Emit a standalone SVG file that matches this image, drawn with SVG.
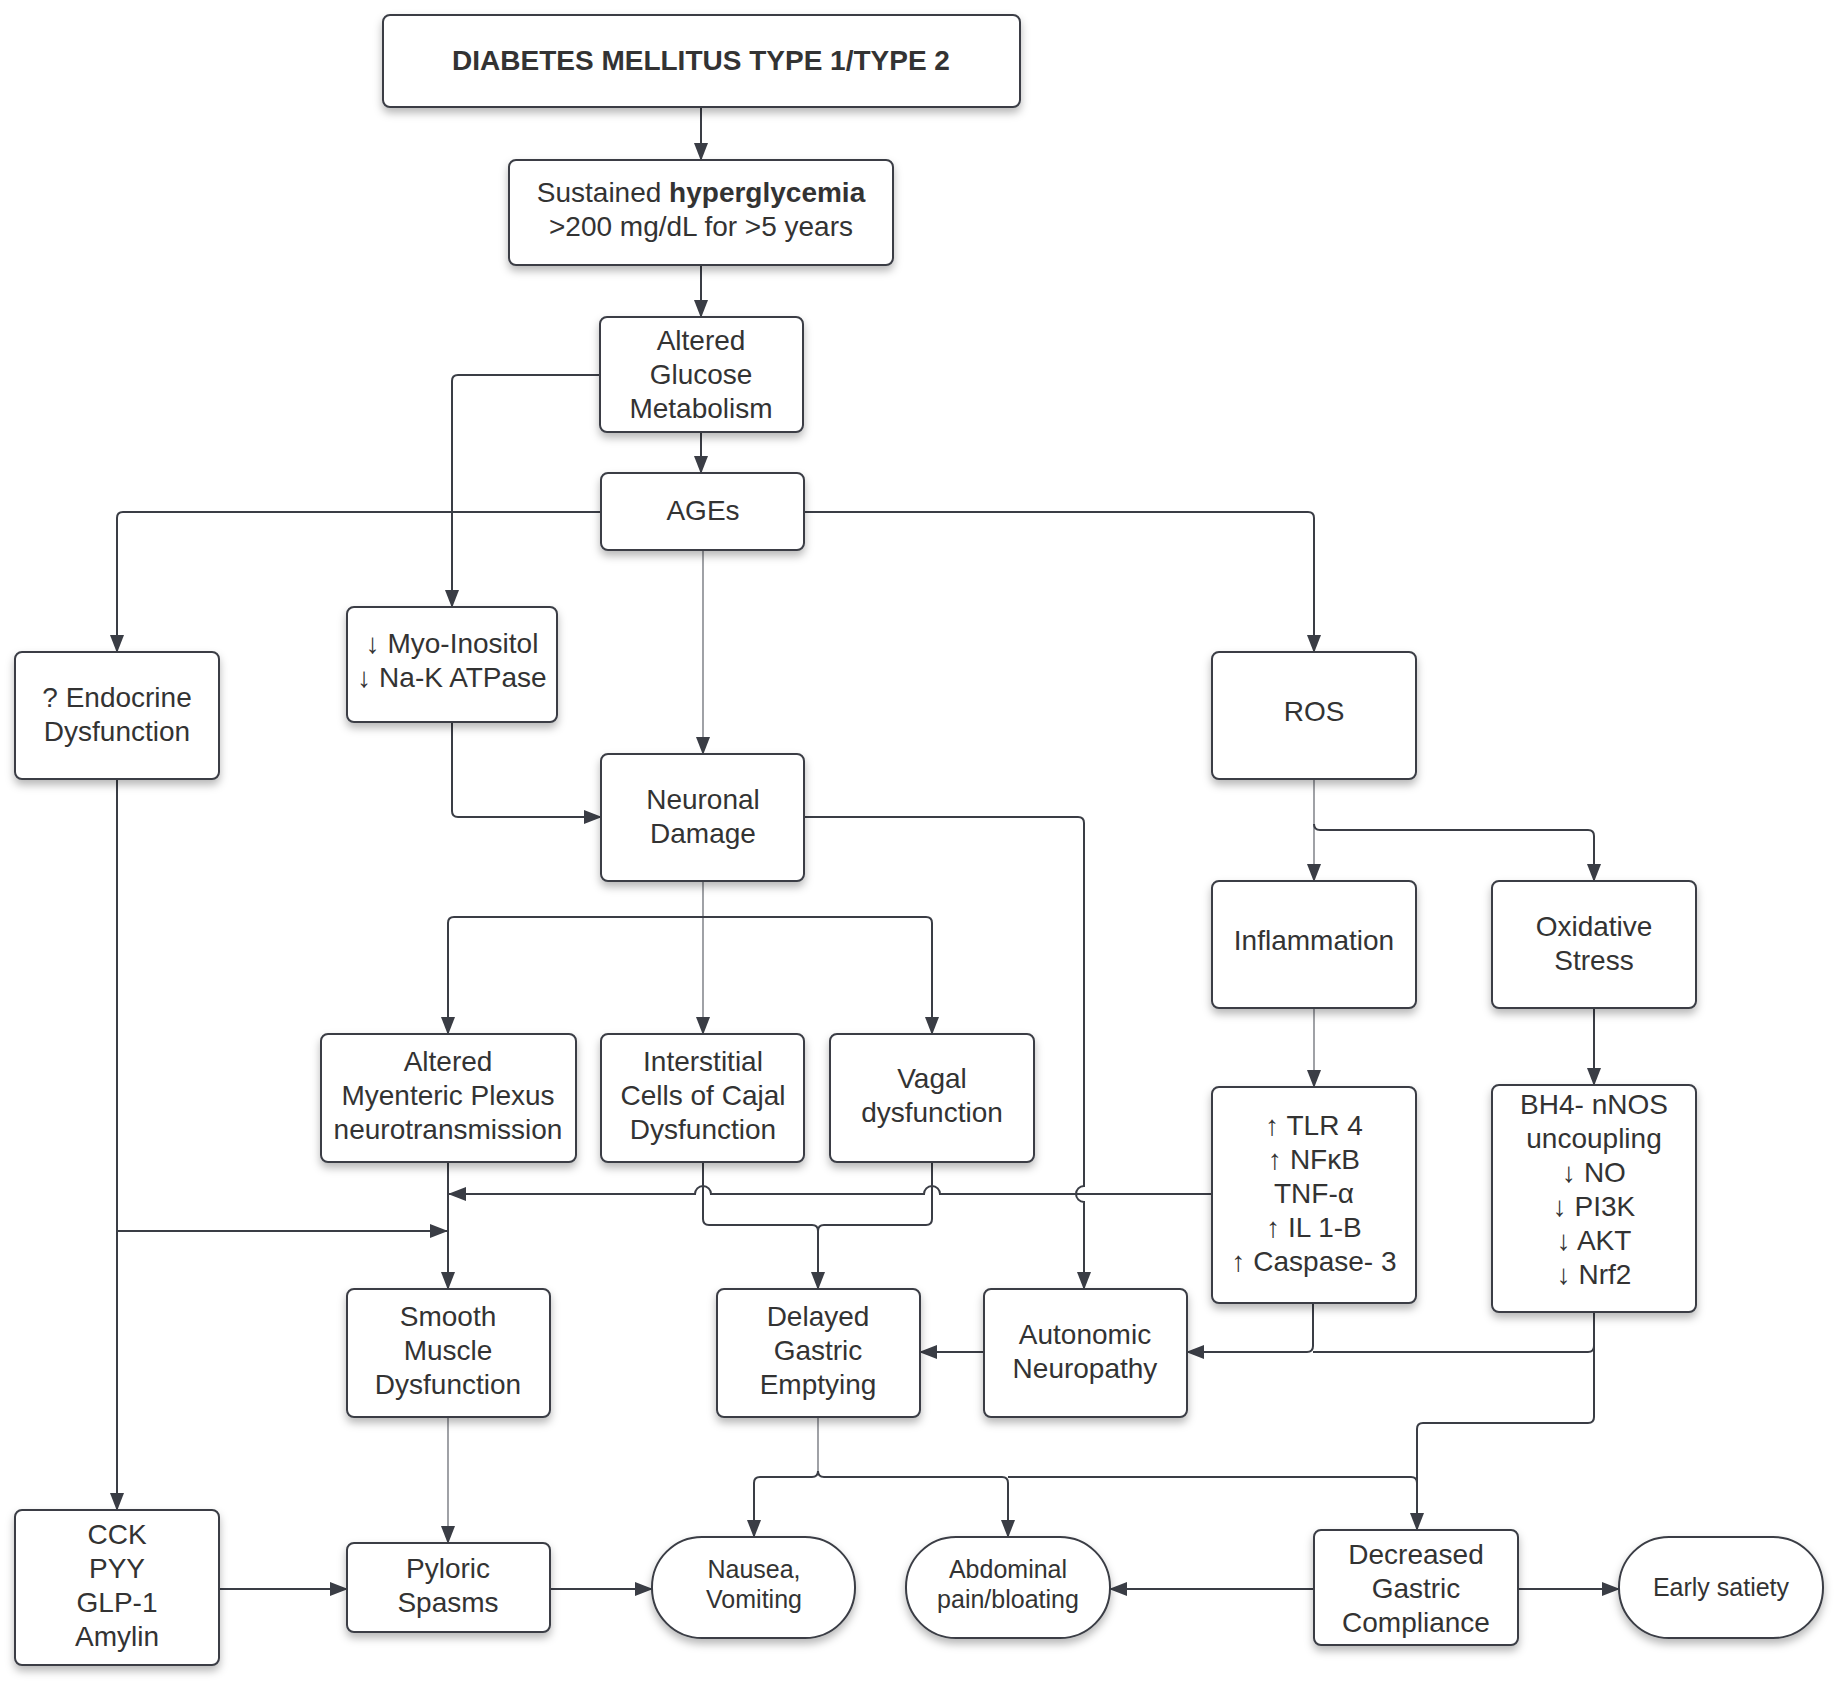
<svg xmlns="http://www.w3.org/2000/svg" width="1836" height="1684" viewBox="0 0 1836 1684">
<defs>
<filter id="sh" x="-10%" y="-10%" width="120%" height="130%">
<feDropShadow dx="0" dy="5" stdDeviation="4" flood-color="#000" flood-opacity="0.28"/>
</filter>
<marker id="ar" markerUnits="userSpaceOnUse" markerWidth="18" markerHeight="14" refX="17" refY="7" orient="auto">
<path d="M0,0 L18,7 L0,14 Z" fill="#3a3d45"/>
</marker>
</defs>
<style>
.b{fill:#fff;stroke:#3a3d45;stroke-width:2;filter:url(#sh)}
.t{font-family:"Liberation Sans",Arial,sans-serif;font-size:28px;fill:#333;text-anchor:middle}
.s{font-size:25px}
.c{fill:none;stroke:#3a3d45;stroke-width:2}
.l{fill:none;stroke:#777a80;stroke-width:1.4}
</style>
<rect width="1836" height="1684" fill="#fff"/>
<g id="connectors">
<path class="c" d="M701,107 V160" marker-end="url(#ar)"/>
<path class="c" d="M701,265 V317" marker-end="url(#ar)"/>
<path class="c" d="M701,432 V473" marker-end="url(#ar)"/>
<path class="c" d="M600,375 H458 Q452,375 452,381 V607" marker-end="url(#ar)"/>
<path class="c" d="M601,512 H123 Q117,512 117,518 V652" marker-end="url(#ar)"/>
<path class="c" d="M804,512 H1308 Q1314,512 1314,518 V652" marker-end="url(#ar)"/>
<path class="l" d="M703,550 V754" marker-end="url(#ar)"/>
<path class="c" d="M452,722 V811 Q452,817 458,817 H601" marker-end="url(#ar)"/>
<path class="c" d="M804,817 H1078 Q1084,817 1084,823 V1186 A8,8 0 0 0 1084,1202 V1289" marker-end="url(#ar)"/>
<path class="l" d="M703,881 V1034" marker-end="url(#ar)"/>
<path class="c" d="M703,917 H454 Q448,917 448,923 V1034" marker-end="url(#ar)"/>
<path class="c" d="M703,917 H926 Q932,917 932,923 V1034" marker-end="url(#ar)"/>
<path class="l" d="M1314,779 V881" marker-end="url(#ar)"/>
<path class="c" d="M1314,824 Q1314,830 1320,830 H1588 Q1594,830 1594,836 V881" marker-end="url(#ar)"/>
<path class="l" d="M1314,1008 V1087" marker-end="url(#ar)"/>
<path class="c" d="M1594,1008 V1085" marker-end="url(#ar)"/>
<path class="c" d="M1212,1194 H940 A8,8 0 0 0 924,1194 H711 A8,8 0 0 0 695,1194 H449" marker-end="url(#ar)"/>
<path class="c" d="M448,1162 V1289" marker-end="url(#ar)"/>
<path class="c" d="M117,779 V1510" marker-end="url(#ar)"/>
<path class="c" d="M117,1231 H447" marker-end="url(#ar)"/>
<path class="c" d="M703,1162 V1219 Q703,1225 709,1225 H812 Q818,1225 818,1231 V1289" marker-end="url(#ar)"/>
<path class="c" d="M932,1162 V1219 Q932,1225 926,1225 H824 Q818,1225 818,1231"/>
<path class="c" d="M1313,1303 V1346 Q1313,1352 1307,1352 H1187" marker-end="url(#ar)"/>
<path class="c" d="M1594,1312 V1346 Q1594,1352 1588,1352 H1313"/>
<path class="c" d="M1594,1346 V1417 Q1594,1423 1588,1423 H1423 Q1417,1423 1417,1429 V1530" marker-end="url(#ar)"/>
<path class="c" d="M984,1352 H920" marker-end="url(#ar)"/>
<path class="l" d="M818,1417 V1471"/>
<path class="c" d="M818,1471 Q818,1477 812,1477 H760 Q754,1477 754,1483 V1537" marker-end="url(#ar)"/>
<path class="c" d="M818,1471 Q818,1477 824,1477 H1002 Q1008,1477 1008,1483 V1537" marker-end="url(#ar)"/>
<path class="c" d="M1008,1477 H1411 Q1417,1477 1417,1483"/>
<path class="l" d="M448,1417 V1543" marker-end="url(#ar)"/>
<path class="c" d="M219,1589 H347" marker-end="url(#ar)"/>
<path class="c" d="M550,1589 H652" marker-end="url(#ar)"/>
<path class="c" d="M1314,1589 H1110" marker-end="url(#ar)"/>
<path class="c" d="M1518,1589 H1619" marker-end="url(#ar)"/>
</g>
<g id="n1"><rect class="b" x="383" y="15" width="637" height="92" rx="7"/><text class="t" x="701" y="70" font-weight="bold">DIABETES MELLITUS TYPE 1/TYPE 2</text></g>
<g id="n2"><rect class="b" x="509" y="160" width="384" height="105" rx="7"/><text class="t" x="701" y="202">Sustained <tspan font-weight="bold">hyperglycemia</tspan></text><text class="t" x="701" y="236">&gt;200 mg/dL for &gt;5 years</text></g>
<g id="n3"><rect class="b" x="600" y="317" width="203" height="115" rx="7"/><text class="t" x="701" y="350">Altered</text><text class="t" x="701" y="384">Glucose</text><text class="t" x="701" y="418">Metabolism</text></g>
<g id="n4"><rect class="b" x="601" y="473" width="203" height="77" rx="7"/><text class="t" x="703" y="520">AGEs</text></g>
<g id="n5"><rect class="b" x="15" y="652" width="204" height="127" rx="7"/><text class="t" x="117" y="707">? Endocrine</text><text class="t" x="117" y="741">Dysfunction</text></g>
<g id="n6"><rect class="b" x="347" y="607" width="210" height="115" rx="7"/><text class="t" x="452" y="653">↓ Myo-Inositol</text><text class="t" x="452" y="687">↓ Na-K ATPase</text></g>
<g id="n7"><rect class="b" x="1212" y="652" width="204" height="127" rx="7"/><text class="t" x="1314" y="721">ROS</text></g>
<g id="n8"><rect class="b" x="601" y="754" width="203" height="127" rx="7"/><text class="t" x="703" y="809">Neuronal</text><text class="t" x="703" y="843">Damage</text></g>
<g id="n9"><rect class="b" x="1212" y="881" width="204" height="127" rx="7"/><text class="t" x="1314" y="950">Inflammation</text></g>
<g id="n10"><rect class="b" x="1492" y="881" width="204" height="127" rx="7"/><text class="t" x="1594" y="936">Oxidative</text><text class="t" x="1594" y="970">Stress</text></g>
<g id="n11"><rect class="b" x="321" y="1034" width="255" height="128" rx="7"/><text class="t" x="448" y="1071">Altered</text><text class="t" x="448" y="1105">Myenteric Plexus</text><text class="t" x="448" y="1139">neurotransmission</text></g>
<g id="n12"><rect class="b" x="601" y="1034" width="203" height="128" rx="7"/><text class="t" x="703" y="1071">Interstitial</text><text class="t" x="703" y="1105">Cells of Cajal</text><text class="t" x="703" y="1139">Dysfunction</text></g>
<g id="n13"><rect class="b" x="830" y="1034" width="204" height="128" rx="7"/><text class="t" x="932" y="1088">Vagal</text><text class="t" x="932" y="1122">dysfunction</text></g>
<g id="n14"><rect class="b" x="1212" y="1087" width="204" height="216" rx="7"/><text class="t" x="1314" y="1135">↑ TLR 4</text><text class="t" x="1314" y="1169">↑ NFκB</text><text class="t" x="1314" y="1203">TNF-α</text><text class="t" x="1314" y="1237">↑ IL 1-B</text><text class="t" x="1314" y="1271">↑ Caspase- 3</text></g>
<g id="n15"><rect class="b" x="1492" y="1085" width="204" height="227" rx="7"/><text class="t" x="1594" y="1114">BH4- nNOS</text><text class="t" x="1594" y="1148">uncoupling</text><text class="t" x="1594" y="1182">↓ NO</text><text class="t" x="1594" y="1216">↓ PI3K</text><text class="t" x="1594" y="1250">↓ AKT</text><text class="t" x="1594" y="1284">↓ Nrf2</text></g>
<g id="n16"><rect class="b" x="347" y="1289" width="203" height="128" rx="7"/><text class="t" x="448" y="1326">Smooth</text><text class="t" x="448" y="1360">Muscle</text><text class="t" x="448" y="1394">Dysfunction</text></g>
<g id="n17"><rect class="b" x="717" y="1289" width="203" height="128" rx="7"/><text class="t" x="818" y="1326">Delayed</text><text class="t" x="818" y="1360">Gastric</text><text class="t" x="818" y="1394">Emptying</text></g>
<g id="n18"><rect class="b" x="984" y="1289" width="203" height="128" rx="7"/><text class="t" x="1085" y="1344">Autonomic</text><text class="t" x="1085" y="1378">Neuropathy</text></g>
<g id="n19"><rect class="b" x="15" y="1510" width="204" height="155" rx="7"/><text class="t" x="117" y="1544">CCK</text><text class="t" x="117" y="1578">PYY</text><text class="t" x="117" y="1612">GLP-1</text><text class="t" x="117" y="1646">Amylin</text></g>
<g id="n20"><rect class="b" x="347" y="1543" width="203" height="89" rx="7"/><text class="t" x="448" y="1578">Pyloric</text><text class="t" x="448" y="1612">Spasms</text></g>
<g id="n21"><rect class="b" x="652" y="1537" width="203" height="101" rx="50"/><text class="t s" x="754" y="1578">Nausea,</text><text class="t s" x="754" y="1608">Vomiting</text></g>
<g id="n22"><rect class="b" x="906" y="1537" width="204" height="101" rx="50"/><text class="t s" x="1008" y="1578">Abdominal</text><text class="t s" x="1008" y="1608">pain/bloating</text></g>
<g id="n23"><rect class="b" x="1314" y="1530" width="204" height="115" rx="7"/><text class="t" x="1416" y="1564">Decreased</text><text class="t" x="1416" y="1598">Gastric</text><text class="t" x="1416" y="1632">Compliance</text></g>
<g id="n24"><rect class="b" x="1619" y="1537" width="204" height="101" rx="50"/><text class="t s" x="1721" y="1596">Early satiety</text></g>
</svg>
